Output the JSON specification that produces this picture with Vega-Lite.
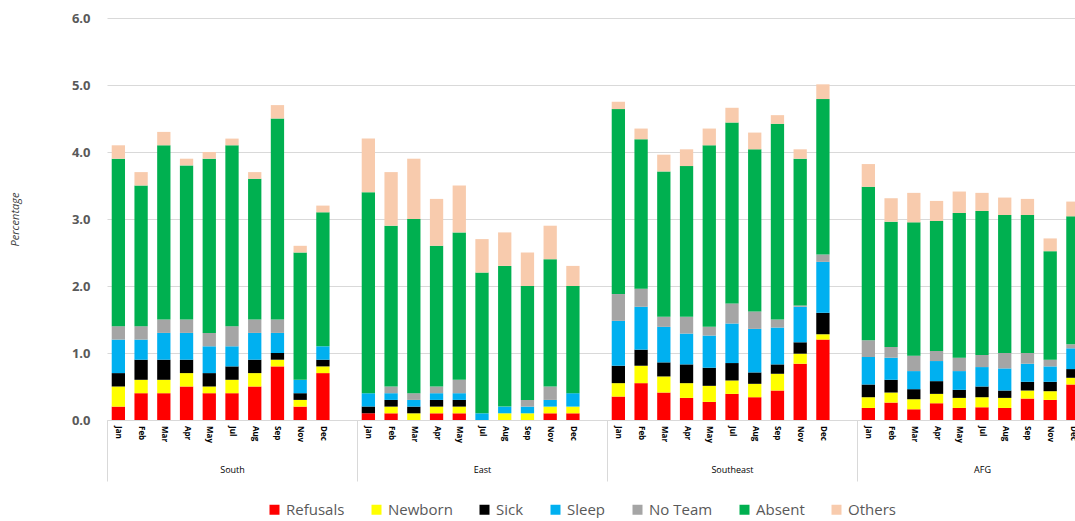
{
  "$schema": "https://vega.github.io/schema/vega-lite/v6.json",
  "padding": {"left": 9, "top": 12, "right": 0, "bottom": 0},
  "width": 1000,
  "height": 402,
  "config": {
    "view": {"stroke": null},
    "font": "Open Sans",
    "axis": {"labelFont": "Open Sans", "titleFont": "Open Sans"},
    "legend": {"labelFont": "Open Sans"}
  },
  "datasets": {
    "causes": [
      {"cause": "Refusals", "k": 1},
      {"cause": "Newborn", "k": 2},
      {"cause": "Sick", "k": 3},
      {"cause": "Sleep", "k": 4},
      {"cause": "No Team", "k": 5},
      {"cause": "Absent", "k": 6},
      {"cause": "Others", "k": 7}
    ]
  },
  "data": {
    "values": [
      {"region": "South", "month": "Jan", "Refusals": 0.2, "Newborn": 0.3, "Sick": 0.2, "Sleep": 0.5, "No Team": 0.2, "Absent": 2.5, "Others": 0.2},
      {"region": "South", "month": "Feb", "Refusals": 0.4, "Newborn": 0.2, "Sick": 0.3, "Sleep": 0.3, "No Team": 0.2, "Absent": 2.1, "Others": 0.2},
      {"region": "South", "month": "Mar", "Refusals": 0.4, "Newborn": 0.2, "Sick": 0.3, "Sleep": 0.4, "No Team": 0.2, "Absent": 2.6, "Others": 0.2},
      {"region": "South", "month": "Apr", "Refusals": 0.5, "Newborn": 0.2, "Sick": 0.2, "Sleep": 0.4, "No Team": 0.2, "Absent": 2.3, "Others": 0.1},
      {"region": "South", "month": "May", "Refusals": 0.4, "Newborn": 0.1, "Sick": 0.2, "Sleep": 0.4, "No Team": 0.2, "Absent": 2.6, "Others": 0.1},
      {"region": "South", "month": "Jul", "Refusals": 0.4, "Newborn": 0.2, "Sick": 0.2, "Sleep": 0.3, "No Team": 0.3, "Absent": 2.7, "Others": 0.1},
      {"region": "South", "month": "Aug", "Refusals": 0.5, "Newborn": 0.2, "Sick": 0.2, "Sleep": 0.4, "No Team": 0.2, "Absent": 2.1, "Others": 0.1},
      {"region": "South", "month": "Sep", "Refusals": 0.8, "Newborn": 0.1, "Sick": 0.1, "Sleep": 0.3, "No Team": 0.2, "Absent": 3.0, "Others": 0.2},
      {"region": "South", "month": "Nov", "Refusals": 0.2, "Newborn": 0.1, "Sick": 0.1, "Sleep": 0.2, "No Team": 0.0, "Absent": 1.9, "Others": 0.1},
      {"region": "South", "month": "Dec", "Refusals": 0.7, "Newborn": 0.1, "Sick": 0.1, "Sleep": 0.2, "No Team": 0.0, "Absent": 2.0, "Others": 0.1},
      {"region": "East", "month": "Jan", "Refusals": 0.1, "Newborn": 0.0, "Sick": 0.1, "Sleep": 0.2, "No Team": 0.0, "Absent": 3.0, "Others": 0.8},
      {"region": "East", "month": "Feb", "Refusals": 0.1, "Newborn": 0.1, "Sick": 0.1, "Sleep": 0.1, "No Team": 0.1, "Absent": 2.4, "Others": 0.8},
      {"region": "East", "month": "Mar", "Refusals": 0.0, "Newborn": 0.1, "Sick": 0.1, "Sleep": 0.1, "No Team": 0.1, "Absent": 2.6, "Others": 0.9},
      {"region": "East", "month": "Apr", "Refusals": 0.1, "Newborn": 0.1, "Sick": 0.1, "Sleep": 0.1, "No Team": 0.1, "Absent": 2.1, "Others": 0.7},
      {"region": "East", "month": "May", "Refusals": 0.1, "Newborn": 0.1, "Sick": 0.1, "Sleep": 0.1, "No Team": 0.2, "Absent": 2.2, "Others": 0.7},
      {"region": "East", "month": "Jul", "Refusals": 0.0, "Newborn": 0.0, "Sick": 0.0, "Sleep": 0.1, "No Team": 0.0, "Absent": 2.1, "Others": 0.5},
      {"region": "East", "month": "Aug", "Refusals": 0.0, "Newborn": 0.1, "Sick": 0.0, "Sleep": 0.1, "No Team": 0.0, "Absent": 2.1, "Others": 0.5},
      {"region": "East", "month": "Sep", "Refusals": 0.0, "Newborn": 0.1, "Sick": 0.0, "Sleep": 0.1, "No Team": 0.1, "Absent": 1.7, "Others": 0.5},
      {"region": "East", "month": "Nov", "Refusals": 0.1, "Newborn": 0.1, "Sick": 0.0, "Sleep": 0.1, "No Team": 0.2, "Absent": 1.9, "Others": 0.5},
      {"region": "East", "month": "Dec", "Refusals": 0.1, "Newborn": 0.1, "Sick": 0.0, "Sleep": 0.2, "No Team": 0.0, "Absent": 1.6, "Others": 0.3},
      {"region": "Southeast", "month": "Jan", "Refusals": 0.35, "Newborn": 0.2, "Sick": 0.26, "Sleep": 0.67, "No Team": 0.4, "Absent": 2.76, "Others": 0.11},
      {"region": "Southeast", "month": "Feb", "Refusals": 0.55, "Newborn": 0.26, "Sick": 0.24, "Sleep": 0.64, "No Team": 0.27, "Absent": 2.23, "Others": 0.16},
      {"region": "Southeast", "month": "Mar", "Refusals": 0.41, "Newborn": 0.24, "Sick": 0.21, "Sleep": 0.53, "No Team": 0.15, "Absent": 2.17, "Others": 0.25},
      {"region": "Southeast", "month": "Apr", "Refusals": 0.33, "Newborn": 0.22, "Sick": 0.28, "Sleep": 0.46, "No Team": 0.25, "Absent": 2.25, "Others": 0.25},
      {"region": "Southeast", "month": "May", "Refusals": 0.27, "Newborn": 0.24, "Sick": 0.27, "Sleep": 0.48, "No Team": 0.13, "Absent": 2.71, "Others": 0.25},
      {"region": "Southeast", "month": "Jul", "Refusals": 0.39, "Newborn": 0.2, "Sick": 0.26, "Sleep": 0.59, "No Team": 0.3, "Absent": 2.7, "Others": 0.22},
      {"region": "Southeast", "month": "Aug", "Refusals": 0.34, "Newborn": 0.2, "Sick": 0.17, "Sleep": 0.65, "No Team": 0.26, "Absent": 2.42, "Others": 0.25},
      {"region": "Southeast", "month": "Sep", "Refusals": 0.44, "Newborn": 0.25, "Sick": 0.14, "Sleep": 0.55, "No Team": 0.12, "Absent": 2.92, "Others": 0.13},
      {"region": "Southeast", "month": "Nov", "Refusals": 0.84, "Newborn": 0.15, "Sick": 0.17, "Sleep": 0.53, "No Team": 0.02, "Absent": 2.19, "Others": 0.14},
      {"region": "Southeast", "month": "Dec", "Refusals": 1.2, "Newborn": 0.08, "Sick": 0.32, "Sleep": 0.76, "No Team": 0.11, "Absent": 2.32, "Others": 0.22},
      {"region": "AFG", "month": "Jan", "Refusals": 0.18, "Newborn": 0.16, "Sick": 0.19, "Sleep": 0.41, "No Team": 0.25, "Absent": 2.29, "Others": 0.34},
      {"region": "AFG", "month": "Feb", "Refusals": 0.26, "Newborn": 0.15, "Sick": 0.19, "Sleep": 0.33, "No Team": 0.16, "Absent": 1.87, "Others": 0.35},
      {"region": "AFG", "month": "Mar", "Refusals": 0.16, "Newborn": 0.15, "Sick": 0.15, "Sleep": 0.27, "No Team": 0.23, "Absent": 1.99, "Others": 0.44},
      {"region": "AFG", "month": "Apr", "Refusals": 0.25, "Newborn": 0.14, "Sick": 0.19, "Sleep": 0.3, "No Team": 0.15, "Absent": 1.94, "Others": 0.3},
      {"region": "AFG", "month": "May", "Refusals": 0.18, "Newborn": 0.15, "Sick": 0.12, "Sleep": 0.28, "No Team": 0.2, "Absent": 2.16, "Others": 0.32},
      {"region": "AFG", "month": "Jul", "Refusals": 0.19, "Newborn": 0.15, "Sick": 0.16, "Sleep": 0.29, "No Team": 0.18, "Absent": 2.15, "Others": 0.27},
      {"region": "AFG", "month": "Aug", "Refusals": 0.18, "Newborn": 0.15, "Sick": 0.11, "Sleep": 0.33, "No Team": 0.23, "Absent": 2.06, "Others": 0.26},
      {"region": "AFG", "month": "Sep", "Refusals": 0.32, "Newborn": 0.12, "Sick": 0.13, "Sleep": 0.27, "No Team": 0.16, "Absent": 2.06, "Others": 0.24},
      {"region": "AFG", "month": "Nov", "Refusals": 0.3, "Newborn": 0.13, "Sick": 0.14, "Sleep": 0.23, "No Team": 0.1, "Absent": 1.62, "Others": 0.19},
      {"region": "AFG", "month": "Dec", "Refusals": 0.53, "Newborn": 0.1, "Sick": 0.13, "Sleep": 0.31, "No Team": 0.06, "Absent": 1.91, "Others": 0.22}
    ]
  },
  "transform": [
    {"fold": ["Refusals", "Newborn", "Sick", "Sleep", "No Team", "Absent", "Others"], "as": ["cause", "value"]},
    {"lookup": "cause", "from": {"data": {"name": "causes"}, "key": "cause", "fields": ["k"]}}
  ],
  "encoding": {
    "x": {
      "field": "region",
      "type": "nominal",
      "sort": ["South", "East", "Southeast", "AFG"],
      "scale": {"paddingInner": 0, "paddingOuter": 0},
      "axis": {"title": null, "labelAngle": 0, "labelFontSize": 9, "labelColor": "#000000", "labelPadding": -16, "tickBand": "extent", "tickSize": 61, "tickColor": "#D9D9D9", "domainColor": "#D9D9D9", "labelBaseline": "top"}
    },
    "xOffset": {
      "field": "month",
      "type": "nominal",
      "scale": {"domain": ["Jan", "Feb", "Mar", "Apr", "May", "Jul", "Aug", "Sep", "Nov", "Dec", " "], "paddingInner": 0.415, "paddingOuter": 0.2075}
    }
  },
  "layer": [
    {
      "mark": {"type": "bar"},
      "encoding": {
        "y": {
          "field": "value",
          "type": "quantitative",
          "stack": "zero",
          "scale": {"domain": [0, 6]},
          "axis": {"title": "Percentage", "titleFontStyle": "italic", "titleFontWeight": "normal", "titleFontSize": 11, "titleColor": "#404040", "titlePadding": 51, "values": [0, 1, 2, 3, 4, 5, 6], "format": ".1f", "labelFontSize": 13, "labelFontWeight": "bold", "labelColor": "#595959", "labelPadding": 17, "ticks": false, "domain": false, "gridColor": "#D9D9D9", "gridWidth": 1}
        },
        "color": {
          "field": "cause",
          "type": "nominal",
          "scale": {
            "domain": ["Refusals", "Newborn", "Sick", "Sleep", "No Team", "Absent", "Others"],
            "range": ["#FF0000", "#FFFF00", "#000000", "#00B0F0", "#A5A5A5", "#00B050", "#F8CBAD"]
          },
          "legend": {"title": null, "orient": "none", "legendX": 160, "legendY": 484, "direction": "horizontal", "symbolType": "square", "symbolSize": 100, "symbolStrokeWidth": 0, "labelFontSize": 15, "labelColor": "#595959", "labelOffset": 4, "columnPadding": 24}
        },
        "order": {"field": "k", "type": "quantitative", "sort": "ascending"}
      }
    },
    {
      "transform": [{"filter": "datum.cause == 'Refusals'"}],
      "mark": {"type": "text", "angle": 90, "align": "left", "baseline": "middle", "dx": 6, "fontSize": 8, "fontWeight": "bold", "color": "#000000"},
      "encoding": {
        "y": {"datum": 0, "type": "quantitative"},
        "text": {"field": "month"}
      }
    }
  ]
}
